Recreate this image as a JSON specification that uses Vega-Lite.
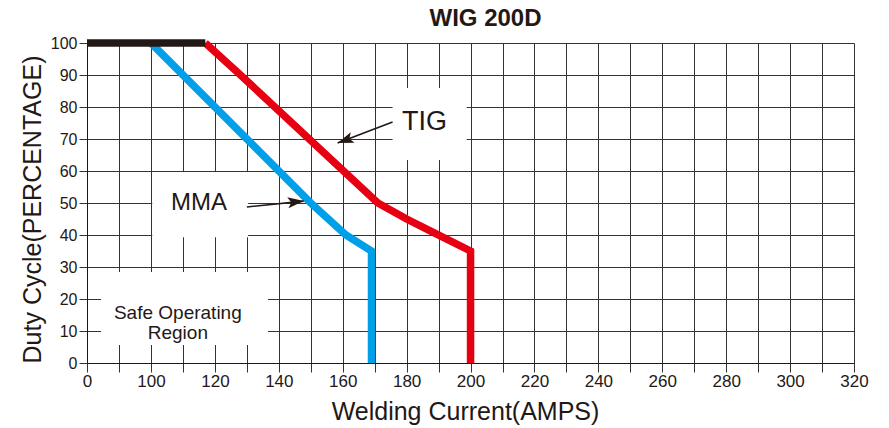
{
  "$schema": "https://vega.github.io/schema/vega-lite/v6.json",
  "description": "WIG 200D duty cycle curves",
  "autosize": {"type": "none"},
  "padding": {"left": 87, "top": 43, "right": 35, "bottom": 65},
  "width": 767,
  "height": 320,
  "background": "white",
  "config": {"view": {"stroke": null}, "font": "Liberation Sans"},
  "title": {
    "text": "WIG 200D",
    "fontSize": 24,
    "fontWeight": "bold",
    "color": "#231815",
    "frame": "group",
    "anchor": "middle",
    "baseline": "alphabetic",
    "offset": 16,
    "dx": 15,
    "dy": 38
  },
  "datasets": {
    "curves": [
      {"series": "TIG", "i": 1, "x": 117, "y": 100},
      {"series": "TIG", "i": 2, "x": 128, "y": 90},
      {"series": "TIG", "i": 3, "x": 171, "y": 50},
      {"series": "TIG", "i": 4, "x": 180, "y": 45},
      {"series": "TIG", "i": 5, "x": 188, "y": 41},
      {"series": "TIG", "i": 6, "x": 200, "y": 35},
      {"series": "TIG", "i": 7, "x": 200, "y": 0},
      {"series": "MMA", "i": 1, "x": 100, "y": 100},
      {"series": "MMA", "i": 2, "x": 150, "y": 50},
      {"series": "MMA", "i": 3, "x": 161, "y": 40},
      {"series": "MMA", "i": 4, "x": 169, "y": 35},
      {"series": "MMA", "i": 5, "x": 169, "y": 0},
      {"series": "Rated", "i": 1, "x": 0, "y": 100},
      {"series": "Rated", "i": 2, "x": 117, "y": 100}
    ],
    "boxes": [
      {"box": "Safe", "x": 21.9, "x2": 136.6, "y": 5.6, "y2": 28.4},
      {"box": "MMA", "x": 100.4, "x2": 130.4, "y": 39.3, "y2": 59.7},
      {"box": "TIG", "x": 175.6, "x2": 198.8, "y": 63.4, "y2": 85.9}
    ],
    "arrows": [
      {"label": "TIG", "x": 158.4, "y": 68.75, "x2": 175.6, "y2": 75.3},
      {"label": "MMA", "x": 147.8, "y": 50.6, "x2": 130, "y2": 48.75}
    ],
    "notes": [
      {"note": "TIG", "x": 185.6, "y": 75.3},
      {"note": "MMA", "x": 115, "y": 50},
      {"note": "Safe Operating\nRegion", "x": 108.4, "y": 15.6}
    ]
  },
  "encoding": {
    "x": {
      "field": "x",
      "type": "quantitative",
      "scale": {"domain": [0, 100, 320], "range": [0, 64, 767]},
      "title": "Welding Current(AMPS)",
      "axis": {
        "values": [0, 50, 100, 110, 120, 130, 140, 150, 160, 170, 180, 190, 200, 210, 220, 230, 240, 250, 260, 270, 280, 290, 300, 310, 320],
        "labelExpr": "(datum.value == 50 || (datum.value > 100 && datum.value % 20 != 0)) ? '' : datum.label",
        "format": "d",
        "grid": true,
        "gridColor": "#333333",
        "gridWidth": 1,
        "gridOpacity": 1,
        "tickColor": "#333333",
        "tickSize": 9,
        "domainColor": "#231815",
        "labelFontSize": 17,
        "labelColor": "#231815",
        "labelPadding": 1,
        "labelFlush": false,
        "labelOverlap": false,
        "titleFontSize": 25,
        "titleFontWeight": "normal",
        "titleColor": "#231815",
        "titleX": 378,
        "titleY": 56,
        "titleAlign": "center",
        "titleBaseline": "alphabetic"
      }
    },
    "y": {
      "field": "y",
      "type": "quantitative",
      "scale": {"domain": [0, 100], "nice": false},
      "title": "Duty Cycle(PERCENTAGE)",
      "axis": {
        "values": [0, 10, 20, 30, 40, 50, 60, 70, 80, 90, 100],
        "grid": true,
        "gridColor": "#333333",
        "gridWidth": 1,
        "gridOpacity": 1,
        "tickColor": "#333333",
        "tickSize": 8,
        "domainColor": "#231815",
        "labelFontSize": 16,
        "labelColor": "#231815",
        "labelPadding": 2,
        "labelOverlap": false,
        "titleFontSize": 25,
        "titleFontWeight": "normal",
        "titleColor": "#231815",
        "titleX": -47,
        "titleY": 166,
        "titleAngle": -90,
        "titleAlign": "center",
        "titleBaseline": "alphabetic"
      }
    }
  },
  "layer": [
    {
      "data": {"name": "boxes"},
      "mark": {"type": "rect", "color": "white"},
      "encoding": {"x2": {"field": "x2"}, "y2": {"field": "y2"}}
    },
    {
      "data": {"name": "curves"},
      "transform": [{"filter": "datum.series == 'TIG'"}],
      "mark": {"type": "line", "color": "#e60012", "strokeWidth": 7.5, "strokeJoin": "miter"},
      "encoding": {"order": {"field": "i"}}
    },
    {
      "data": {"name": "curves"},
      "transform": [{"filter": "datum.series == 'MMA'"}],
      "mark": {"type": "line", "color": "#00a0e9", "strokeWidth": 7.5, "strokeJoin": "miter"},
      "encoding": {"order": {"field": "i"}}
    },
    {
      "data": {"name": "curves"},
      "transform": [{"filter": "datum.series == 'Rated'"}],
      "mark": {"type": "line", "color": "#231815", "strokeWidth": 7.5},
      "encoding": {"order": {"field": "i"}}
    },
    {
      "data": {"name": "arrows"},
      "mark": {"type": "rule", "color": "#231815", "strokeWidth": 1.6},
      "encoding": {"x2": {"field": "x2"}, "y2": {"field": "y2"}}
    },
    {
      "data": {"name": "arrows"},
      "transform": [{"filter": "datum.label == 'TIG'"}],
      "mark": {"type": "point", "shape": "M0,0L-1.6,-0.55L-1.25,0L-1.6,0.55Z", "size": 400, "angle": 160, "filled": true, "color": "#231815", "opacity": 1}
    },
    {
      "data": {"name": "arrows"},
      "transform": [{"filter": "datum.label == 'MMA'"}],
      "mark": {"type": "point", "shape": "M0,0L-1.6,-0.55L-1.25,0L-1.6,0.55Z", "size": 400, "angle": 354, "filled": true, "color": "#231815", "opacity": 1}
    },
    {
      "data": {"name": "notes"},
      "transform": [{"filter": "datum.note == 'TIG'"}],
      "mark": {"type": "text", "fontSize": 27, "color": "#231815", "align": "center", "baseline": "middle"},
      "encoding": {"text": {"field": "note"}}
    },
    {
      "data": {"name": "notes"},
      "transform": [{"filter": "datum.note == 'MMA'"}],
      "mark": {"type": "text", "fontSize": 24, "color": "#231815", "align": "center", "baseline": "middle"},
      "encoding": {"text": {"field": "note"}}
    },
    {
      "data": {"name": "notes"},
      "transform": [{"filter": "indexof(datum.note, 'Safe') == 0"}],
      "mark": {"type": "text", "fontSize": 19, "lineHeight": 20, "lineBreak": "\n", "color": "#231815", "align": "center", "baseline": "middle"},
      "encoding": {"text": {"field": "note"}}
    }
  ]
}
